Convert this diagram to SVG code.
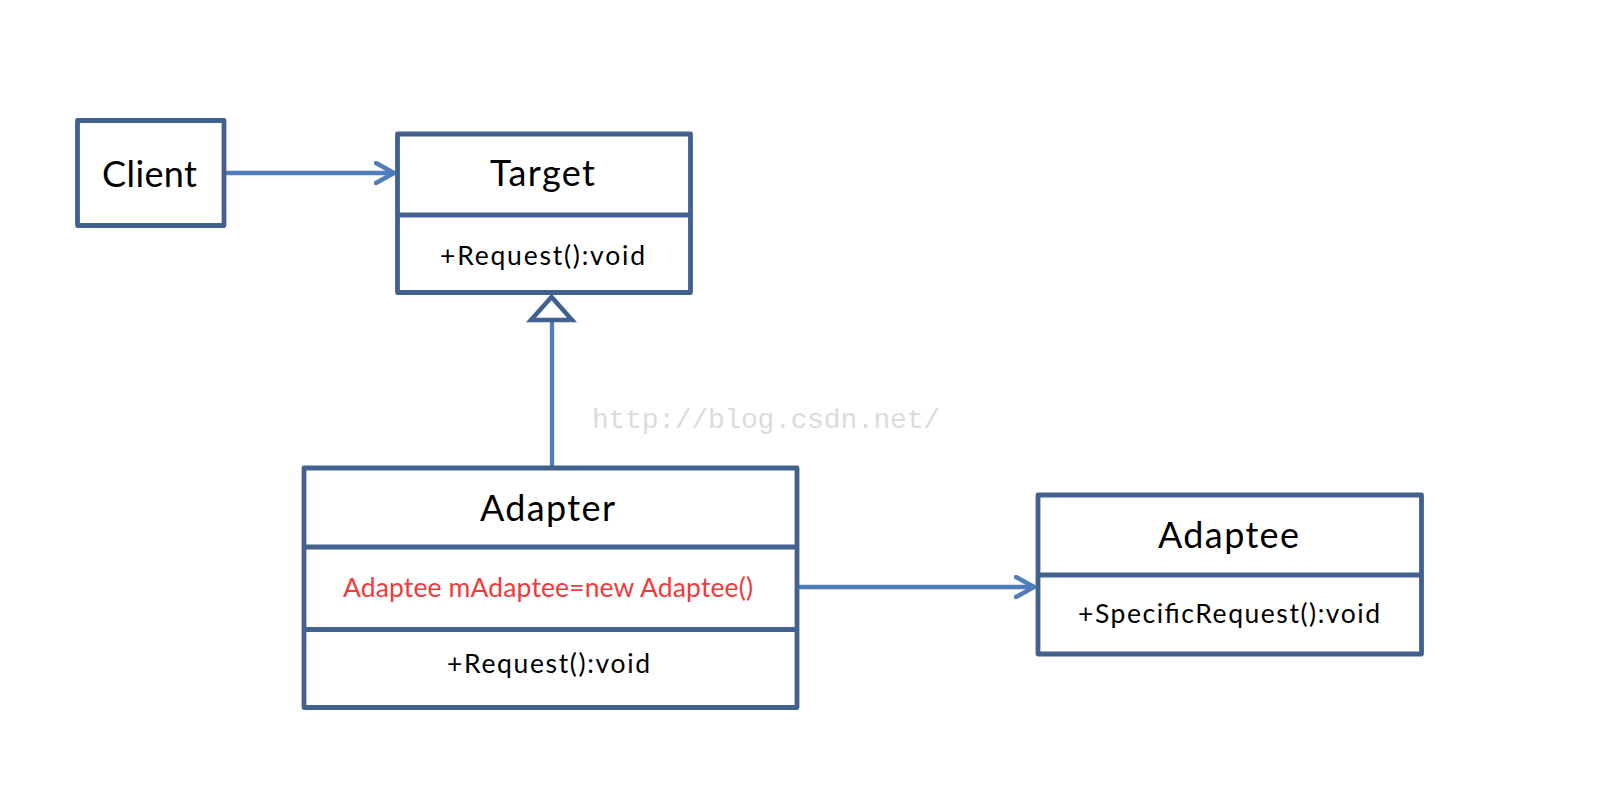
<svg xmlns="http://www.w3.org/2000/svg" width="1602" height="808" viewBox="0 0 1602 808">
<style>
.box{fill:#fff;stroke:#41618F;stroke-width:4.8;stroke-linejoin:round}
.div{stroke:#41618F;stroke-width:4.8}
.con{fill:none;stroke:#4F7DBA;stroke-width:4.3}
.t{font-family:Lato,"Liberation Sans",sans-serif;fill:#000;text-anchor:middle}
.big{font-size:36px}
.sm{font-size:26.5px}
.red{fill:#F23A3A}
.wm{font-family:"Liberation Mono",monospace;font-size:28px;fill:#DCDCDC}
</style>
<defs>
<marker id="open" markerUnits="userSpaceOnUse" markerWidth="30" markerHeight="30" refX="20" refY="12" orient="auto">
<path d="M2,2 L20,12 L2,22" fill="none" stroke="#4F7DBA" stroke-width="4.5" stroke-linecap="round" stroke-linejoin="round"/>
</marker>
</defs>
<rect width="1602" height="808" fill="#fff"/>
<text class="wm" x="592" y="428" textLength="348">http://blog.csdn.net/</text>
<g id="connectors">
<path class="con" d="M226,173 L394,173" marker-end="url(#open)"/>
<path class="con" d="M552,466 L552,321"/>
<path d="M551.5,297 L531,320 L572,320 Z" fill="#fff" stroke="#41618F" stroke-width="4.5" stroke-linejoin="miter"/>
<path class="con" d="M799,587 L1034,587" marker-end="url(#open)"/>
</g>
<g id="client">
<rect class="box" x="77.5" y="120.5" width="146.5" height="105"/>
<text class="t big" x="149.5" y="187" textLength="95">Client</text>
</g>
<g id="target">
<rect class="box" x="397.5" y="134" width="293" height="158.5"/>
<line class="div" x1="397.5" y1="215" x2="690.5" y2="215"/>
<text class="t big" x="542.5" y="186" textLength="105">Target</text>
<text class="t sm" x="542.5" y="265" textLength="205">+Request():void</text>
</g>
<g id="adapter">
<rect class="box" x="304" y="468" width="493" height="239.5"/>
<line class="div" x1="304" y1="547" x2="797" y2="547"/>
<line class="div" x1="304" y1="629.5" x2="797" y2="629.5"/>
<text class="t big" x="547.5" y="521" textLength="135">Adapter</text>
<text class="t sm red" x="548" y="597" textLength="410">Adaptee mAdaptee=new Adaptee()</text>
<text class="t sm" x="548.5" y="673" textLength="203">+Request():void</text>
</g>
<g id="adaptee">
<rect class="box" x="1038" y="495" width="383.5" height="159"/>
<line class="div" x1="1038" y1="575" x2="1421.5" y2="575"/>
<text class="t big" x="1228.5" y="548" textLength="141">Adaptee</text>
<text class="t sm" x="1229" y="623" textLength="302">+SpecificRequest():void</text>
</g>
</svg>
